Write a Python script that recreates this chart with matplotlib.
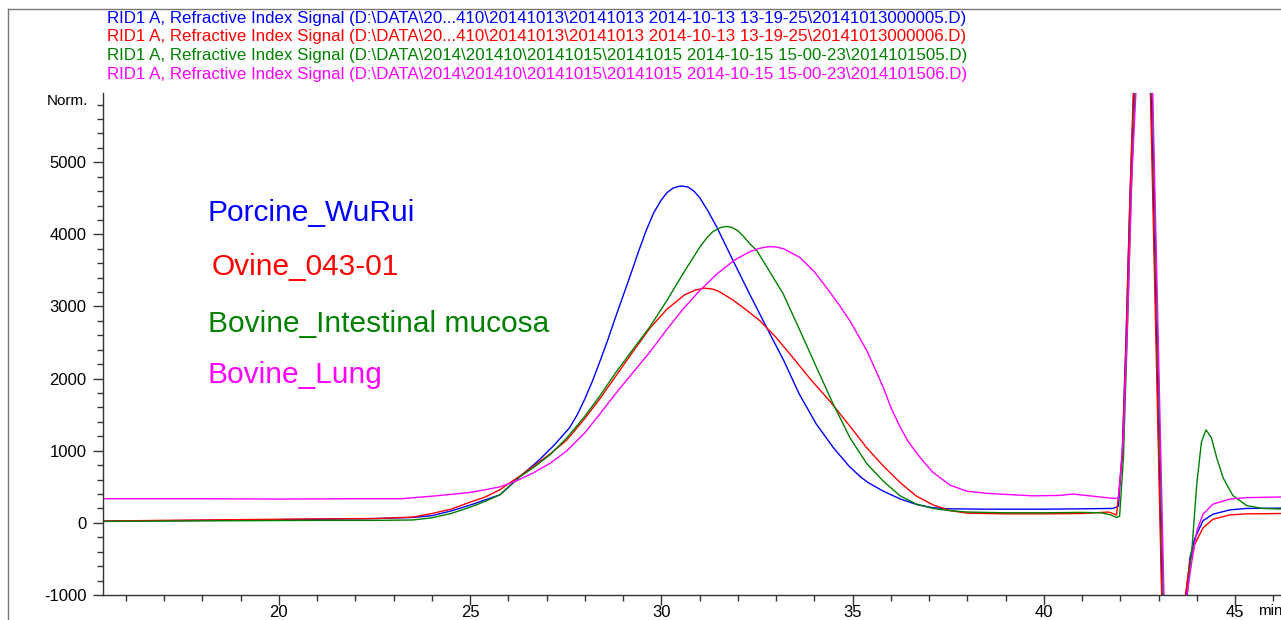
import matplotlib
matplotlib.use("Agg")
import matplotlib.pyplot as plt
from matplotlib.ticker import MultipleLocator
from matplotlib.lines import Line2D

# Retention time (min) and RID signal (Norm.)
blue_t = [15.4, 17, 19, 21, 22.5, 23.5, 24.0, 24.5, 24.96, 25.4, 25.78, 26.3, 26.8, 27.2, 27.6, 27.8,
          28.0, 28.2, 28.4, 28.6, 28.8, 29.0, 29.2, 29.4, 29.6, 29.8, 30.0, 30.15, 30.3, 30.45,
          30.55, 30.7, 30.85, 31.0, 31.2, 31.45, 31.87, 32.3, 32.75, 33.2, 33.6, 34.05, 34.5,
          34.9, 35.2, 35.4, 35.8, 36.25, 36.7, 37.1, 37.5, 38.5, 40, 41, 41.8, 41.95,
          42.05, 42.15, 42.25, 42.42, 42.72, 43.11, 43.3, 43.55, 43.72, 43.82, 43.95, 44.16, 44.42,
          44.86, 45.3, 46.3]
blue_v = [25, 30, 40, 50, 60, 75, 100, 165, 240, 320, 390, 640, 870, 1080, 1320, 1500,
          1720, 1970, 2250, 2540, 2850, 3150, 3450, 3760, 4050, 4300, 4480, 4580, 4640, 4665,
          4670, 4655, 4600, 4510, 4340, 4100, 3640, 3180, 2710, 2250, 1790, 1370, 1040,
          790, 640, 560, 440, 330, 250, 210, 195, 190, 190, 195, 200, 230,
          1000, 2600, 4500, 7000, 8000, -1500, -3000, -3000, -1000, -480, -210, 30, 120,
          180, 200, 205]

red_t = [15.4, 17, 19, 21, 22.5, 23.5, 24.0, 24.5, 24.96, 25.4, 25.78, 26.3, 26.64, 27.1, 27.53,
         28.0, 28.39, 28.8, 29.25, 29.7, 30.14, 30.6, 30.9, 31.14, 31.35, 31.5, 31.87, 32.2, 32.58,
         33.0, 33.44, 33.9, 34.4, 34.9, 35.37, 35.8, 36.24, 36.67, 37.1, 37.54, 38.0, 39, 40, 41,
         41.5, 41.7, 41.9, 42.05, 42.15, 42.25, 42.4, 42.7, 43.1, 43.3, 43.55, 43.7, 43.82, 43.95,
         44.16, 44.42, 44.86, 45.3, 46.3]
red_v = [25, 35, 45, 55, 60, 80, 130, 190, 280, 360, 460, 650, 780, 960, 1150,
         1450, 1720, 2030, 2370, 2700, 2960, 3160, 3230, 3255, 3240, 3210, 3090, 2960, 2800,
         2570, 2290, 1990, 1690, 1360, 1040, 790, 560, 370, 250, 170, 135, 125, 125, 130,
         145, 150, 110, 900, 2500, 4500, 7000, 8000, -1500, -3000, -3000, -1000, -530, -290,
         -70, 50, 110, 125, 130]

green_t = [15.4, 17, 19, 21, 22.5, 23.5, 24.0, 24.5, 24.96, 25.4, 25.78, 26.3, 26.64, 27.1, 27.53,
           28.0, 28.39, 28.8, 29.25, 29.7, 30.14, 30.56, 31.0, 31.2, 31.35, 31.55, 31.7, 31.85,
           32.0, 32.15, 32.31, 32.49, 32.8, 33.18, 33.62, 34.06, 34.49, 34.93, 35.37, 35.8, 36.24,
           36.67, 37.1, 37.54, 38.0, 39, 40, 41, 41.5, 41.75, 41.9, 41.98, 42.08, 42.18, 42.28,
           42.45, 42.75, 43.14, 43.3, 43.55, 43.75, 43.88, 44.0, 44.12, 44.24, 44.38, 44.52,
           44.69, 44.94, 45.3, 45.72, 46.3]
green_v = [20, 25, 30, 35, 35, 40, 70, 130, 210, 300, 390, 640, 760, 950, 1180,
           1480, 1760, 2080, 2400, 2720, 3080, 3450, 3820, 3960, 4040, 4095, 4110, 4095,
           4050, 3970, 3870, 3780, 3510, 3180, 2670, 2150, 1650, 1180, 820, 580, 375,
           260, 200, 170, 150, 140, 140, 145, 140, 110, 75, 90, 900, 2600, 4500,
           7000, 8000, -1500, -3000, -3000, -1000, -300, 550, 1120, 1290, 1180, 900,
           620, 380, 240, 200, 190]

pink_t = [15.4, 18, 20, 22, 23.2, 24.0, 24.5, 24.96, 25.4, 25.78, 26.2, 26.64, 27.1, 27.53, 28.0,
          28.39, 28.8, 29.25, 29.7, 30.14, 30.56, 31.0, 31.45, 31.9, 32.31, 32.55, 32.8, 33.0, 33.2,
          33.62, 34.0, 34.32, 34.65, 34.93, 35.37, 35.8, 36.0, 36.24, 36.45, 36.67, 36.9, 37.1,
          37.54, 37.98, 38.5, 39.0, 39.7, 40.4, 40.76, 41.1, 41.46, 41.8, 41.95, 42.08, 42.2, 42.3,
          42.5, 42.76, 43.16, 43.3, 43.55, 43.74, 43.87, 44.0, 44.16, 44.42, 44.86, 45.3, 46.3]
pink_v = [335, 335, 330, 335, 335, 370, 395, 420, 460, 500, 580, 690, 830, 1000, 1250,
          1510, 1790, 2080, 2370, 2680, 2960, 3220, 3450, 3640, 3760, 3805, 3830, 3825, 3800,
          3680, 3480, 3260, 3020, 2800, 2390, 1880, 1600, 1330, 1130, 970, 820, 700,
          525, 440, 410, 395, 375, 380, 400, 380, 360, 340, 345, 1200, 3000, 4800,
          7000, 8000, -1500, -3000, -3000, -1000, -530, -110, 120, 260, 330, 350, 360]

series_colors = ["#0000FF", "#FF0000", "#008000", "#FF00FF"]
header_lines = [
    r"RID1 A, Refractive Index Signal (D:\DATA\20...410\20141013\20141013 2014-10-13 13-19-25\20141013000005.D)",
    r"RID1 A, Refractive Index Signal (D:\DATA\20...410\20141013\20141013 2014-10-13 13-19-25\20141013000006.D)",
    r"RID1 A, Refractive Index Signal (D:\DATA\2014\201410\20141015\20141015 2014-10-15 15-00-23\2014101505.D)",
    r"RID1 A, Refractive Index Signal (D:\DATA\2014\201410\20141015\20141015 2014-10-15 15-00-23\2014101506.D)",
]
sample_names = ["Porcine_WuRui", "Ovine_043-01", "Bovine_Intestinal mucosa", "Bovine_Lung"]
name_x = [18.14, 18.25, 18.14, 18.14]
name_y = [4180, 3440, 2650, 1945]

plt.rcParams['font.family'] = ['Liberation Sans', 'DejaVu Sans']
plt.rcParams['axes.unicode_minus'] = False

fig = plt.figure(figsize=(12.81, 6.2), dpi=100)
ax = fig.add_axes([103/1281, 1 - 595/620, 1 - 103/1281, (595 - 93)/620])

# Traces
for t, v, c in zip([blue_t, red_t, green_t, pink_t], [blue_v, red_v, green_v, pink_v], series_colors):
    ax.plot(t, v, color=c, linewidth=1.0)

ax.set_xlim(15.4, 46.2)
ax.set_ylim(-1000, 5960)

# Axes styling, ChemStation-like
for side in ["top", "right"]:
    ax.spines[side].set_visible(False)
for side in ["left", "bottom"]:
    ax.spines[side].set_color("#333333")
    ax.spines[side].set_linewidth(1.0)

ax.xaxis.set_major_locator(MultipleLocator(5))
ax.xaxis.set_minor_locator(MultipleLocator(1))
ax.yaxis.set_major_locator(MultipleLocator(1000))
ax.yaxis.set_minor_locator(MultipleLocator(200))
ax.tick_params(axis="both", which="major", length=7, width=1, color="#333333", labelsize=12)
ax.tick_params(axis="both", which="minor", length=4, width=1, color="#333333")
ax.tick_params(axis="x", which="major", pad=0.5)
ax.tick_params(axis="y", which="major", pad=5)

# Axis unit labels
fig.text(88/1281, 1 - 101/620, "Norm.", ha="right", va="center", fontsize=11)
fig.text(1258/1281, 1 - 611/620, "min", ha="left", va="center", fontsize=11)

# Header lines for each file
for i, (line, c) in enumerate(zip(header_lines, series_colors)):
    fig.text(107/1281, 1 - (18 + 18.7*i)/620, line, color=c, ha="left", va="center", fontsize=12.15)

# Sample names
for name, x, y, c in zip(sample_names, name_x, name_y, series_colors):
    ax.text(x, y, name, color=c, fontsize=21.5, ha="left", va="baseline")

# Outer frame (left and top edges visible)
fig.add_artist(Line2D([8/1281, 8/1281], [0, 1 - 9/620], color="#777777", linewidth=1))
fig.add_artist(Line2D([8/1281, 1], [1 - 9/620, 1 - 9/620], color="#777777", linewidth=1))

plt.savefig("out.png", dpi=100)
